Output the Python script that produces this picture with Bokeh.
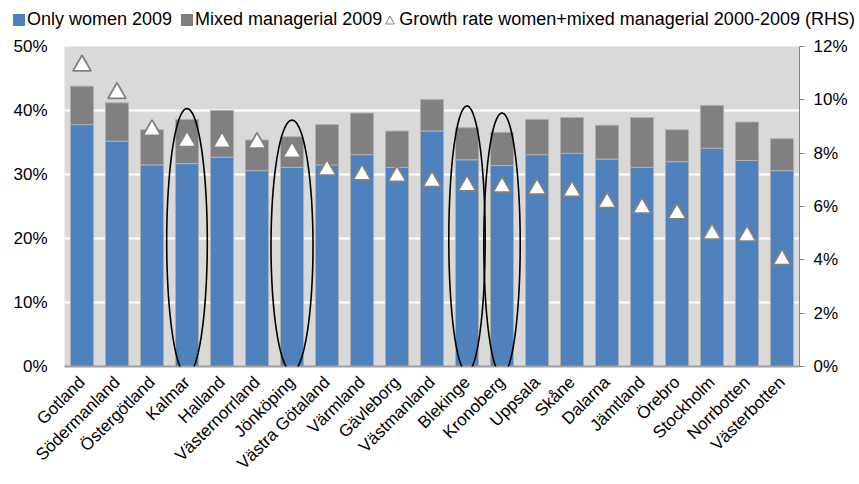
import math
import numpy as np
from bokeh.plotting import figure
from bokeh.layouts import column
from bokeh.models import (Range1d, LinearAxis, FactorRange, FixedTicker, PrintfTickFormatter,
                          ColumnDataSource, PolyAnnotation, Div)
from bokeh.embed import file_html
from bokeh.resources import INLINE

# ---------------- data ----------------
regions = ["Gotland", "Södermanland", "Östergötland", "Kalmar", "Halland", "Västernorrland",
           "Jönköping", "Västra Götaland", "Värmland", "Gävleborg", "Västmanland", "Blekinge",
           "Kronoberg", "Uppsala", "Skåne", "Dalarna", "Jämtland", "Örebro", "Stockholm",
           "Norrbotten", "Västerbotten"]
only_women_2009 = [37.8, 35.2, 31.5, 31.7, 32.7, 30.6, 31.1, 31.5, 33.1, 31.1, 36.8, 32.3,
                   31.4, 33.1, 33.3, 32.4, 31.1, 32.0, 34.1, 32.2, 30.6]
mixed_managerial_2009 = [6.0, 6.0, 5.5, 6.9, 7.3, 4.8, 4.8, 6.3, 6.5, 5.7, 4.9, 5.0,
                         5.2, 5.5, 5.6, 5.3, 7.8, 5.0, 6.7, 6.0, 5.0]
growth_rate_2000_2009 = [11.28, 10.25, 8.86, 8.44, 8.41, 8.38, 8.04, 7.37, 7.19, 7.14, 6.94,
                         6.78, 6.73, 6.66, 6.57, 6.15, 5.95, 5.73, 4.97, 4.90, 4.01]
series_labels = ["Only women 2009", "Mixed managerial 2009",
                 "Growth rate women+mixed managerial 2000-2009 (RHS)"]
left_ticks = [0, 10, 20, 30, 40, 50]
right_ticks = [0, 2, 4, 6, 8, 10, 12]
highlighted = ["Kalmar", "Jönköping", "Blekinge", "Kronoberg"]

# ---------------- styles ----------------
FONT = "Liberation Sans"
BLUE = "#4F81BD"
GRAY = "#808080"
# highlight ellipse extents (top %, bottom %, half-width in category units)
ellipse_shape = {"Kalmar": (40.3, -1.3, 0.58), "Jönköping": (38.5, -0.8, 0.60),
                 "Blekinge": (40.7, -0.9, 0.52), "Kronoberg": (39.6, -1.3, 0.52)}
LEG_H = 32
FIG_H = 450

src = ColumnDataSource(dict(region=regions, women=only_women_2009,
                            mixed=mixed_managerial_2009, growth=growth_rate_2000_2009))

p = figure(x_range=FactorRange(*regions, range_padding=0), y_range=Range1d(0, 50),
           width=851, height=FIG_H, output_backend="svg", toolbar_location=None,
           min_border_left=64, min_border_top=46 - LEG_H, min_border_right=52,
           min_border_bottom=FIG_H - (368 - LEG_H),
           background_fill_color="#D9D9D9", border_fill_color="white", outline_line_color=None)
p.x_range.factor_padding = 0
p.extra_y_ranges = {"rhs": Range1d(0, 12)}

bars = p.vbar_stack(["women", "mixed"], x="region", width=0.66, source=src,
                    color=[BLUE, GRAY], line_color="#B0B0B0", line_width=1)
tri = p.scatter(x="region", y="growth", source=src, y_range_name="rhs", marker="triangle",
                size=18, fill_color="white", line_color=GRAY, line_width=1.8)

# highlight ellipses
for name in highlighted:
    i = regions.index(name)
    top, bot, hw = ellipse_shape[name]
    cy, ry = (top + bot) / 2, (top - bot) / 2
    t = np.linspace(0, 2 * math.pi, 120)
    p.add_layout(PolyAnnotation(xs=list(i + 0.5 + hw * np.cos(t)), ys=list(cy + ry * np.sin(t)),
                                fill_alpha=0, line_color="black", line_alpha=1, line_width=1.6))

# grid
p.xgrid.grid_line_color = None
p.ygrid.ticker = FixedTicker(ticks=[10, 20, 30, 40])
p.ygrid.grid_line_color = "white"
p.ygrid.grid_line_width = 2

# left axis
ya = p.yaxis[0]
ya.ticker = FixedTicker(ticks=left_ticks)
ya.formatter = PrintfTickFormatter(format="%d%%")
ya.axis_line_color = None
ya.major_tick_line_color = None
ya.minor_tick_line_color = None
ya.major_tick_out = 0
ya.major_label_standoff = 17
ya.major_label_text_font = FONT
ya.major_label_text_font_size = "17px"
ya.major_label_text_color = "black"

# right axis
ra = LinearAxis(y_range_name="rhs", ticker=FixedTicker(ticks=right_ticks),
                formatter=PrintfTickFormatter(format="%d%%"))
ra.axis_line_color = "#868686"
ra.major_tick_line_color = "#868686"
ra.major_tick_in = 0
ra.major_tick_out = 5
ra.minor_tick_line_color = None
ra.major_label_standoff = 9
ra.major_label_text_font = FONT
ra.major_label_text_font_size = "17px"
ra.major_label_text_color = "black"
p.add_layout(ra, "right")

# bottom axis
xa = p.xaxis[0]
xa.axis_line_color = "#A0A0A0"
xa.axis_line_width = 2
xa.major_tick_line_color = None
xa.major_tick_out = 0
xa.major_label_orientation = math.pi / 4
xa.major_label_standoff = 13
xa.major_label_text_font = FONT
xa.major_label_text_font_size = "17px"
xa.major_label_text_color = "black"

# ---------------- legend strip (HTML above the chart) ----------------
sq = ('<span style="display:inline-block;width:12px;height:12px;background:{c};'
      'margin-right:2px;vertical-align:-1px"></span>')
tri_icon = ('<svg width="10" height="10" style="margin:0 4px 0 3px;vertical-align:0px">'
            '<polygon points="5,1 9.3,9 0.7,9" fill="white" stroke="{c}" stroke-width="1"/></svg>')
gap = '<span style="display:inline-block;width:9px"></span>'
legend_html = (
    '<div style="font-family:\'Liberation Sans\',Arial,sans-serif;font-size:18px;color:#000;'
    'white-space:nowrap;line-height:20px;padding:9px 0 0 13px;margin:0">'
    + sq.format(c=BLUE) + series_labels[0] + gap
    + sq.format(c=GRAY) + series_labels[1]
    + tri_icon.format(c=GRAY) + series_labels[2]
    + '</div>')
legend_div = Div(text=legend_html, width=851, height=LEG_H, margin=0)

layout = column(legend_div, p, spacing=0)
open("out.html", "w").write(file_html(layout, INLINE))
